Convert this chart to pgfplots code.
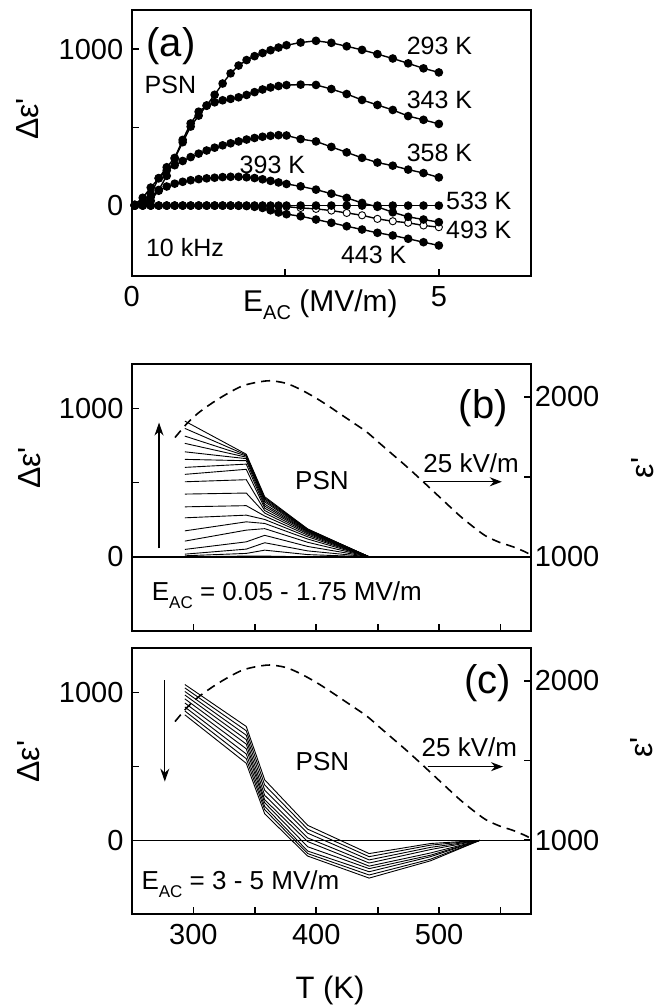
\documentclass[border=0pt]{standalone}
\usepackage{fontspec}
\setmainfont{Liberation Sans}
\usepackage{pgfplots}
\pgfplotsset{compat=1.18}
\usepackage{pgfplotstable}
\usetikzlibrary{arrows.meta}
\newcommand{\fs}[1]{\fontsize{#1}{#1}\selectfont}
\newcommand{\de}{Δε\textquotesingle}
\newcommand{\ep}{ε\textquotesingle}

% panel (a): Delta eps' vs E_AC at several temperatures
\pgfplotstableread{
E c293 c343 c358 c393 c443 c493 c533
0.05 0 5 5 0 0 0 0
0.18 10 28 50 18 0 0 0
0.31 30 75 115 55 0 0 0
0.44 100 175 175 95 0 0 0
0.57 190 245 225 122 0 0 0
0.70 300 305 258 140 0 0 0
0.83 405 420 285 152 0 0 0
0.96 505 525 310 162 0 0 0
1.09 575 600 332 169 0 0 0
1.22 640 638 352 174 0 0 0
1.35 708 660 370 178 0 0 0
1.48 780 673 385 182 0 0 0
1.61 845 682 398 184 0 0 0
1.74 895 692 410 184 -1 0 0
1.87 930 707 422 181 -3 0 0
2.00 955 725 432 176 -8 0 0
2.13 975 742 440 168 -15 0 0
2.26 993 755 446 158 -30 -2 0
2.39 1010 764 450 148 -44 -4 0
2.52 1025 770 448 138 -55 -7 0
2.75 1042 773 425 123 -68 -15 0
3.00 1053 771 410 102 -89 -21 0
3.25 1040 745 375 76 -110 -32 0
3.50 1018 713 340 49 -132 -47 0
3.75 995 675 305 17 -153 -62 0
4.00 968 643 275 -8 -174 -85 0
4.25 940 611 255 -43 -191 -100 0
4.50 909 572 230 -72 -212 -110 0
4.75 877 548 208 -89 -234 -127 0
5.00 851 522 180 -106 -255 -138 0
}\taba

% panel (b): Delta eps' vs T, E_AC = 0.05 ... 1.75 MV/m
\pgfplotstableread{
T a b c d e f g h i j k l m n o p q r
293 0 7 18 50 106 175 263 337 423 506 556 603 657 708 765 814 866 915
343 5 23 52 101 180 236 281 345 430 520 590 625 648 662 672 680 686 692
358 5 45 95 145 190 225 252 275 295 312 328 342 355 370 380 390 398 405
393 0 15 40 70 98 120 135 146 155 162 168 172 176 179 182 184 186 188
443 0 0 0 0 0 0 0 0 0 0 0 0 0 0 0 0 0 0
493 0 0 0 0 0 0 0 0 0 0 0 0 0 0 0 0 0 0
533 0 0 0 0 0 0 0 0 0 0 0 0 0 0 0 0 0 0
}\tabb

% panel (c): Delta eps' vs T, E_AC = 3 ... 5 MV/m
\pgfplotstableread{
T a b c d e f g h i
293 1055 1032 1008 984 958 930 903 876 850
343 771 742 712 682 652 620 585 553 522
358 410 375 340 305 275 255 230 208 180
393 102 76 49 17 -8 -43 -72 -89 -106
443 -89 -110 -132 -153 -174 -191 -212 -234 -255
493 -21 -32 -47 -62 -85 -100 -110 -127 -138
533 0 0 0 0 0 0 0 0 0
}\tabc

% eps' at 25 kV/m (right axis)
\pgfplotstableread{
T eps
285 1745
295 1835
305 1905
318 1975
330 2030
340 2068
350 2088
362 2100
375 2085
386 2050
398 2000
408 1952
420 1890
430 1838
441 1780
451 1713
462 1640
473 1567
484 1490
495 1411
506 1332
517 1254
528 1185
538 1129
549 1090
560 1062
570 1030
576 1005
}\tabeps

\pgfplotsset{
  panel/.style={scale only axis, width=399.3pt, anchor=south west,
    axis line style={line width=2pt}, tick align=inside, major tick length=7pt,
    every tick/.style={black, line width=1.6pt},
    tick label style={font=\fs{29}},
    /pgf/number format/assume math mode=true,
    clip mode=individual},
  adot/.style={black, line width=1.4pt, mark=*, mark size=3.6pt},
  thinl/.style={black, line width=0.9pt},
}

\begin{document}
\begin{tikzpicture}
\useasboundingbox (0,0) rectangle (663pt,1005pt);

% ---------------- (a)
\begin{axis}[panel, at={(131.7pt,729pt)}, height=266pt,
  xmin=0, xmax=6.5, ymin=-450, ymax=1250,
  xtick pos=left, ytick pos=left,
  xtick={0,2.5,5}, xticklabels={0,,5},
  ytick={0,500,1000}, yticklabels={0,,1000},
  xticklabel style={yshift=-7pt}, yticklabel style={xshift=-5pt}]
\addplot[adot, mark options={fill=white, line width=0.9pt}] table[x=E,y=c493]{\taba};
\addplot[adot] table[x=E,y=c533]{\taba};
\addplot[adot] table[x=E,y=c443]{\taba};
\addplot[adot] table[x=E,y=c393]{\taba};
\addplot[adot] table[x=E,y=c358]{\taba};
\addplot[adot] table[x=E,y=c343]{\taba};
\addplot[adot] table[x=E,y=c293]{\taba};
\node[font=\fs{40}] at (axis cs:0.64,1019) {(a)};
\node[font=\fs{25}] at (axis cs:0.63,771) {PSN};
\node[font=\fs{25}, anchor=west, inner sep=0pt] at (axis cs:0.23,-268) {10 kHz};
\node[font=\fs{25}] at (axis cs:5.01,1019) {293 K};
\node[font=\fs{25}] at (axis cs:5.01,675) {343 K};
\node[font=\fs{25}] at (axis cs:5.01,336) {358 K};
\node[font=\fs{25}] at (axis cs:2.29,261) {393 K};
\node[font=\fs{25}] at (axis cs:5.65,27) {533 K};
\node[font=\fs{25}] at (axis cs:5.65,-153) {493 K};
\node[font=\fs{25}] at (axis cs:3.94,-312) {443 K};
\end{axis}
\node[rotate=90, font=\fs{32}] at (27.5pt,886pt) {\de};
\node[font=\fs{30}, anchor=base west, inner sep=0pt] at (243pt,693pt)
  {E\raisebox{-8pt}{\fs{20}AC} (MV/m)};

% ---------------- (b)
\begin{axis}[panel, at={(132pt,374pt)}, height=267pt,
  xmin=250, xmax=575, ymin=-500, ymax=1300,
  xtick pos=left, ytick pos=left,
  xtick={300,350,...,550}, xticklabels={},
  ytick={0,500,1000}, yticklabels={0,,1000},
  yticklabel style={xshift=-5pt}]
\addplot[black, line width=1.8pt] coordinates {(250,0) (575,0)};
\pgfplotsinvokeforeach{1,...,18}{\addplot[thinl] table[x index=0, y index=#1]{\tabb};}
\draw[-{Stealth[length=13pt,width=9pt]}, line width=1.1pt] (axis cs:272,57) -- (axis cs:272,905);
\draw[-{Stealth[length=12pt,width=9pt]}, line width=1.4pt] (axis cs:488,506) -- (axis cs:551,506);
\node[font=\fs{26}] at (axis cs:526,632) {25 kV/m};
\node[font=\fs{26}] at (axis cs:404.6,517) {PSN};
\node[font=\fs{40}] at (axis cs:536,1003) {(b)};
\node[font=\fs{26}, anchor=base west, inner sep=0pt] at (axis cs:266,-292)
  {E\raisebox{-8pt}{\fs{17}AC} = 0.05 - 1.75 MV/m};
\end{axis}
\begin{axis}[panel, at={(132pt,374pt)}, height=267pt,
  xmin=250, xmax=575, ymin=535, ymax=2205,
  axis y line*=right, axis x line=none,
  ytick={1000,1500,2000}, yticklabels={1000,,2000}]
\addplot[black, line width=1.6pt, dash pattern=on 9pt off 6pt, smooth] table[x=T,y=eps]{\tabeps};
\end{axis}
\node[rotate=90, font=\fs{32}] at (29.6pt,537pt) {\de};
\node[rotate=90, font=\fs{32}] at (642.7pt,537pt) {\ep};

% ---------------- (c)
\begin{axis}[panel, at={(132pt,90.7pt)}, height=266pt,
  xmin=250, xmax=575, ymin=-500, ymax=1300,
  xtick pos=left, ytick pos=left,
  xtick={300,350,...,550}, xticklabels={300,,400,,500,},
  ytick={0,500,1000}, yticklabels={0,,1000},
  xticklabel style={yshift=-6pt}, yticklabel style={xshift=-5pt}]
\addplot[black, line width=1.8pt] coordinates {(250,0) (575,0)};
\pgfplotsinvokeforeach{1,...,9}{\addplot[thinl] table[x index=0, y index=#1]{\tabc};}
\draw[-{Stealth[length=13pt,width=9pt]}, line width=1.1pt] (axis cs:276.7,1084) -- (axis cs:276.7,398);
\draw[-{Stealth[length=12pt,width=9pt]}, line width=1.4pt] (axis cs:490.7,499) -- (axis cs:552,499);
\node[font=\fs{26}] at (axis cs:524.6,634) {25 kV/m};
\node[font=\fs{26}] at (axis cs:405,533) {PSN};
\node[font=\fs{40}] at (axis cs:539.5,1066) {(c)};
\node[font=\fs{26}, anchor=base west, inner sep=0pt] at (axis cs:257.6,-332)
  {E\raisebox{-8pt}{\fs{17}AC} = 3 - 5 MV/m};
\end{axis}
\begin{axis}[panel, at={(132pt,90.7pt)}, height=266pt,
  xmin=250, xmax=575, ymin=535, ymax=2205,
  axis y line*=right, axis x line=none,
  ytick={1000,1500,2000}, yticklabels={1000,,2000}]
\addplot[black, line width=1.6pt, dash pattern=on 9pt off 6pt, smooth] table[x=T,y=eps]{\tabeps};
\end{axis}
\node[rotate=90, font=\fs{32}] at (28.5pt,243.3pt) {\de};
\node[rotate=90, font=\fs{32}] at (641.6pt,257.5pt) {\ep};
\node[font=\fs{31}] at (330pt,15pt) {T (K)};
\end{tikzpicture}
\end{document}
